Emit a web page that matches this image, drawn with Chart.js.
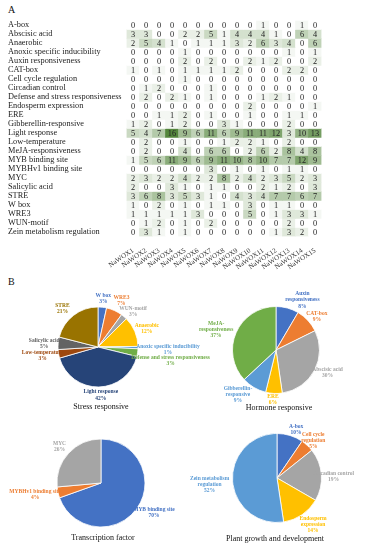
<!DOCTYPE html>
<html>
<head>
<meta charset="utf-8">
<script src="https://cdn.jsdelivr.net/npm/chart.js@4.4.0/dist/chart.umd.min.js"></script>
<style>
  body { margin: 0; background: #fff; }
  #wrap { position: relative; width: 365px; height: 550px; overflow: hidden; font-family: "Liberation Serif", serif; color: #111; }
  canvas { position: absolute; }
  .panel { position: absolute; font-size: 10px; }
  .title { position: absolute; font-size: 8px; white-space: nowrap; transform: translateX(-50%); }
</style>
</head>
<body>
<div id="wrap">
  <div class="panel" style="left:8px;top:4px">A</div>
  <canvas id="heat" width="365" height="272" style="left:0;top:0"></canvas>
  <div class="panel" style="left:8px;top:276px">B</div>
  <canvas id="stress" width="240" height="150" style="left:-22.5px;top:272px"></canvas>
  <canvas id="hormone" width="240" height="150" style="left:156px;top:274.5px"></canvas>
  <canvas id="tf" width="240" height="150" style="left:-19px;top:407.5px"></canvas>
  <canvas id="growth" width="240" height="150" style="left:157px;top:403px"></canvas>
  <div class="title" style="left:101px;top:402px">Stress responsive</div>
  <div class="title" style="left:279px;top:403px">Hormone responsive</div>
  <div class="title" style="left:103px;top:533px">Transcription factor</div>
  <div class="title" style="left:275px;top:534px">Plant growth and development</div>
</div>
<script>
// cis-element counts per NaWOX gene
const geneLabels = ['NaWOX1', 'NaWOX2', 'NaWOX3', 'NaWOX4', 'NaWOX5', 'NaWOX6', 'NaWOX7', 'NaWOX8',
  'NaWOX9', 'NaWOX10', 'NaWOX11', 'NaWOX12', 'NaWOX13', 'NaWOX14', 'NaWOX15'];
const rowLabels = ['A-box', 'Abscisic acid', 'Anaerobic', 'Anoxic specific inducibility', 'Auxin responsiveness',
  'CAT-box', 'Cell cycle regulation', 'Circadian control', 'Defense and stress responsiveness',
  'Endosperm expression', 'ERE', 'Gibberellin-responsive', 'Light response', 'Low-temperature',
  'MeJA-responsiveness', 'MYB binding site', 'MYBHv1 binding site', 'MYC', 'Salicylic acid', 'STRE',
  'W box', 'WRE3', 'WUN-motif', 'Zein metabolism regulation'];
const counts = [
  [0, 0, 0, 0, 0, 0, 0, 0, 0, 0, 1, 0, 0, 1, 0],
  [3, 3, 0, 0, 2, 2, 5, 1, 4, 4, 4, 1, 0, 6, 4],
  [2, 5, 4, 1, 0, 1, 1, 1, 3, 2, 6, 3, 4, 0, 6],
  [0, 0, 0, 0, 1, 0, 0, 0, 0, 0, 0, 0, 1, 0, 1],
  [0, 0, 0, 0, 2, 0, 2, 0, 0, 2, 1, 2, 0, 0, 2],
  [1, 0, 1, 0, 1, 1, 1, 1, 2, 0, 0, 0, 2, 2, 0],
  [0, 0, 0, 0, 1, 0, 0, 0, 0, 0, 0, 0, 0, 0, 0],
  [0, 1, 2, 0, 0, 0, 1, 0, 0, 0, 0, 0, 0, 0, 0],
  [0, 2, 0, 2, 1, 0, 1, 0, 0, 0, 1, 2, 1, 0, 0],
  [0, 0, 0, 0, 0, 0, 0, 0, 0, 2, 0, 0, 0, 0, 1],
  [0, 0, 1, 1, 2, 0, 1, 0, 0, 1, 0, 0, 1, 1, 0],
  [1, 2, 0, 1, 2, 0, 0, 3, 1, 0, 0, 0, 2, 0, 0],
  [5, 4, 7, 16, 9, 6, 11, 6, 9, 11, 11, 12, 3, 10, 13],
  [0, 2, 0, 0, 1, 0, 0, 1, 2, 2, 1, 0, 2, 0, 0],
  [0, 2, 0, 0, 4, 0, 6, 6, 0, 2, 6, 2, 8, 4, 8],
  [1, 5, 6, 11, 9, 6, 9, 11, 10, 8, 10, 7, 7, 12, 9],
  [0, 0, 0, 0, 0, 0, 3, 0, 1, 0, 1, 0, 1, 1, 0],
  [2, 3, 2, 2, 4, 2, 2, 8, 2, 4, 2, 3, 5, 2, 3],
  [2, 0, 0, 3, 1, 0, 1, 1, 0, 0, 2, 1, 2, 0, 3],
  [3, 6, 8, 3, 5, 3, 1, 0, 4, 3, 4, 7, 7, 6, 7],
  [1, 0, 2, 0, 1, 0, 1, 1, 0, 3, 0, 1, 1, 0, 0],
  [1, 1, 1, 1, 1, 3, 0, 0, 0, 5, 0, 1, 3, 3, 1],
  [0, 1, 2, 0, 1, 0, 2, 0, 0, 0, 0, 0, 2, 0, 0],
  [0, 3, 1, 0, 1, 0, 0, 0, 0, 0, 0, 1, 3, 2, 0]
];

// pie groups (element totals)
const stressLabels = ['W box', 'WRE3', 'WUN-motif', 'Anaerobic', 'Anoxic specific inducibility',
  'Defense and stress responsiveness', 'Light response', 'Low-temperature', 'Salicylic acid', 'STRE'];
const stressValues = [11, 21, 8, 39, 3, 10, 133, 11, 16, 67];
const hormoneLabels = ['Auxin\nresponsiveness', 'CAT-box', 'Abscisic acid', 'ERE', 'Gibberellin-\nresponsive', 'MeJA-\nresponsiveness'];
const hormoneValues = [11, 12, 39, 8, 12, 48];
const tfLabels = ['MYB binding site', 'MYBHv1 binding site', 'MYC'];
const tfValues = [121, 7, 46];
const growthLabels = ['A-box', 'Cell cycle\nregulation', 'Circadian control', 'Endosperm\nexpression', 'Zein metabolism\nregulation'];
const growthValues = [2, 1, 4, 3, 11];

const office = ['#4472C4', '#ED7D31', '#A5A5A5', '#FFC000', '#5B9BD5', '#70AD47', '#264478', '#9E480E', '#636363', '#997300'];
const serif = '"Liberation Serif", "Times New Roman", serif';

// heatmap: white -> green
const maxCount = Math.max(...counts.flat());
const lo = [255, 255, 255], hi = [84, 134, 60];
const heatColor = v => {
  const t = v / maxCount;
  return 'rgb(' + lo.map((c, i) => Math.round(c + (hi[i] - c) * t)).join(',') + ')';
};

const cellText = {
  id: 'cellText',
  afterDatasetsDraw(chart) {
    const ctx = chart.ctx;
    ctx.save();
    ctx.font = '8.3px ' + serif;
    ctx.fillStyle = '#222';
    ctx.textAlign = 'center';
    ctx.textBaseline = 'middle';
    counts.forEach((row, r) => {
      chart.getDatasetMeta(r).data.forEach((bar, i) => {
        ctx.fillText(row[i], bar.x, (bar.y + bar.base) / 2 + 0.5);
      });
    });
    ctx.restore();
  }
};

new Chart(document.getElementById('heat'), {
  type: 'bar',
  data: {
    labels: geneLabels,
    datasets: counts.map((row, r) => ({
      data: row.map(() => [r - 0.5, r + 0.5]),
      backgroundColor: row.map(heatColor),
      borderWidth: 0,
      barPercentage: 1,
      categoryPercentage: 1,
      grouped: false
    }))
  },
  options: {
    responsive: false,
    animation: false,
    events: [],
    layout: { padding: { left: 8, right: 43.5, top: 20.5, bottom: 0 } },
    plugins: { legend: { display: false }, tooltip: { enabled: false } },
    scales: {
      x: {
        grid: { display: false },
        border: { display: false },
        ticks: { autoSkip: false, color: '#333', font: { family: serif, size: 7 }, minRotation: 34, maxRotation: 34, padding: 2 },
        afterFit: s => { s.height = 35.5; }
      },
      y: {
        min: -0.5,
        max: rowLabels.length - 0.5,
        reverse: true,
        grid: { display: false },
        border: { display: false },
        afterBuildTicks: s => { s.ticks = rowLabels.map((_, i) => ({ value: i })); },
        ticks: { autoSkip: false, crossAlign: 'far', color: '#222', font: { family: serif, size: 8.3 }, callback: v => rowLabels[v] },
        afterFit: s => { s.width = 118.5; }
      }
    }
  },
  plugins: [cellText]
});

// pie labels: placed at slice edge, nudged like the Excel best-fit labels
const pieLabels = (names, values, colors, nudge) => ({
  id: 'pieLabels',
  afterDatasetsDraw(chart) {
    const ctx = chart.ctx;
    const total = values.reduce((a, b) => a + b, 0);
    ctx.save();
    ctx.font = 'bold 5.5px ' + serif;
    ctx.textAlign = 'center';
    ctx.textBaseline = 'middle';
    chart.getDatasetMeta(0).data.forEach((arc, i) => {
      const mid = (arc.startAngle + arc.endAngle) / 2;
      const x = arc.x + Math.cos(mid) * arc.outerRadius + nudge[i][0];
      const y = arc.y + Math.sin(mid) * arc.outerRadius + nudge[i][1];
      const lines = names[i].split('\n').concat(Math.round(values[i] / total * 100) + '%');
      ctx.fillStyle = colors[i];
      lines.forEach((t, k) => ctx.fillText(t, x, y + (k - (lines.length - 1) / 2) * 6.2));
    });
    ctx.restore();
  }
});

function makePie(id, names, values, radius, nudge) {
  const colors = office.slice(0, values.length);
  new Chart(document.getElementById(id), {
    type: 'pie',
    data: {
      labels: names,
      datasets: [{ data: values, backgroundColor: colors, borderColor: '#fff', borderWidth: 0.8, radius: radius }]
    },
    options: {
      responsive: false,
      animation: false,
      events: [],
      plugins: { legend: { display: false }, tooltip: { enabled: false } }
    },
    plugins: [pieLabels(names, values, colors, nudge)]
  });
}

makePie('stress', stressLabels, stressValues, 40,
  [[1, -9], [7, -10], [9, -5], [12, -3], [30, 2], [33, 8], [2, 8], [-16, 2], [-14, 0], [-11, -7]]);
makePie('hormone', hormoneLabels, hormoneValues, 43.5,
  [[15, -8], [9, -4], [13, 2], [-1, 6], [-16, 7], [-20, -3]]);
makePie('tf', tfLabels, tfValues, 44, [[17, 4], [-23, 2], [-9, -7]]);
makePie('growth', growthLabels, growthValues, 44.5, [[6, -6], [6, -5], [12, 2], [11, 10], [-23, 3]]);
</script>
</body>
</html>
